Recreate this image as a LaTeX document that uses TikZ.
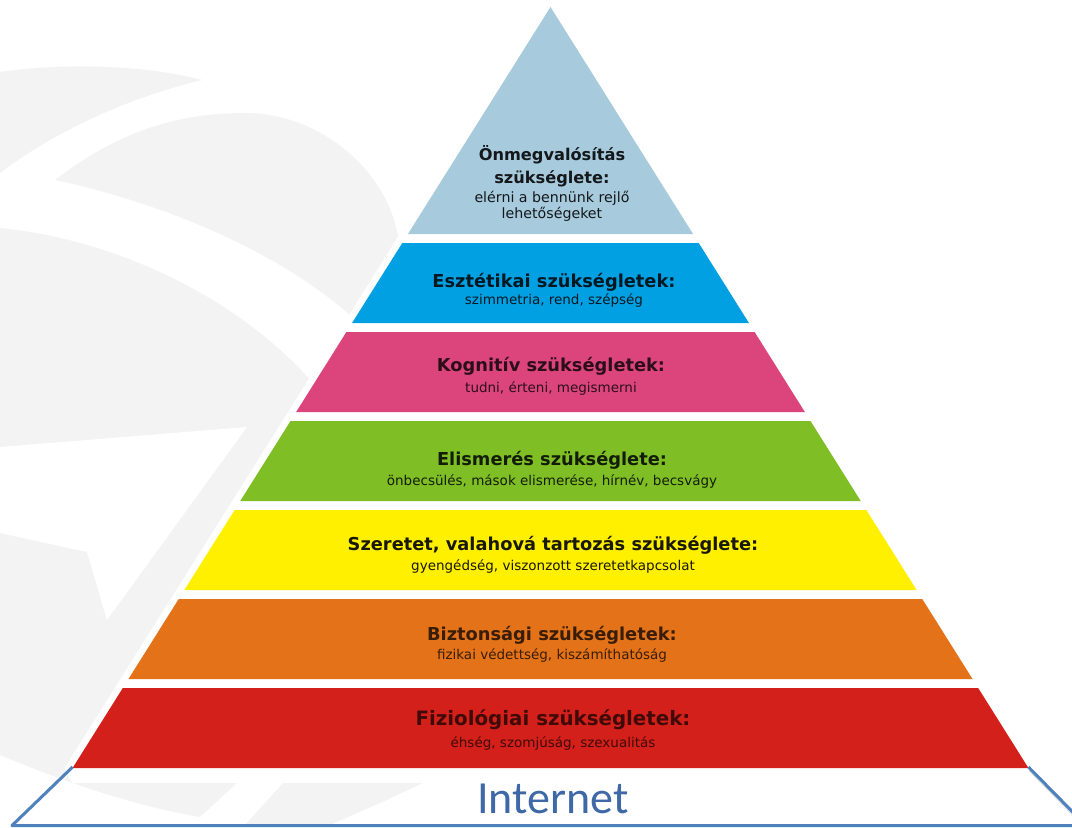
\documentclass[tikz,border=0pt]{standalone}
\usepackage{fontspec}
\setmainfont{DejaVu Sans}
\newfontfamily\carlito{Carlito}
\definecolor{bgGrey}{RGB}{243,243,243}
\definecolor{triBlue}{RGB}{167,202,220}
\definecolor{skyBlue}{RGB}{0,160,226}
\definecolor{rosePink}{RGB}{219,69,124}
\definecolor{leafGreen}{RGB}{128,190,38}
\definecolor{sunYellow}{RGB}{255,240,0}
\definecolor{deepOrange}{RGB}{228,114,24}
\definecolor{fireRed}{RGB}{212,32,26}
\definecolor{netBlue}{RGB}{62,104,166}
\definecolor{lineBlue}{RGB}{79,129,189}
\newcommand\pyrband[3]{%
  \pgfmathsetmacro\pbTL{550.5-0.628*(#1-7)}%
  \pgfmathsetmacro\pbTR{550.5+0.628*(#1-7)}%
  \pgfmathsetmacro\pbBL{550.5-0.628*(#2-7)}%
  \pgfmathsetmacro\pbBR{550.5+0.628*(#2-7)}%
  \fill[#3] (\pbTL,#1) -- (\pbTR,#1) -- (\pbBR,#2) -- (\pbBL,#2) -- cycle;%
}
\begin{document}
\begin{tikzpicture}[x=1pt,y=-1pt,
  head/.style={anchor=base,inner sep=0pt,font=\bfseries\fontsize{17.8}{20}\selectfont},
  headbig/.style={anchor=base,inner sep=0pt,font=\bfseries\fontsize{19.8}{22}\selectfont},
  headtri/.style={anchor=base,inner sep=0pt,font=\bfseries\fontsize{16.2}{19}\selectfont},
  sub/.style={anchor=base,inner sep=0pt,font=\fontsize{13.5}{16}\selectfont},
  subtri/.style={anchor=base,inner sep=0pt,font=\fontsize{14.2}{16}\selectfont},
  netline/.style={draw=lineBlue,line width=3pt,line join=round}]
\useasboundingbox (0,0) rectangle (1072,828);
\clip (0,0) rectangle (1072,828);
\fill[white] (0,0) rectangle (1072,828);
% watermark
\fill[bgGrey] (0,72) .. controls (70,62) and (150,66) .. (202,80)
  .. controls (120,100) and (50,135) .. (0,173) -- cycle;
\fill[bgGrey] (55,180) .. controls (120,130) and (180,113) .. (245,113)
  .. controls (320,113) and (385,170) .. (397,232) -- (420,300) -- (350,315)
  .. controls (270,245) and (150,200) .. (55,180) -- cycle;
\fill[bgGrey] (0,228) .. controls (120,240) and (240,300) .. (312,382)
  -- (345,400) -- (345,600) -- (237,783) -- (200,817)
  .. controls (130,805) and (60,780) .. (0,755) -- cycle;
\fill[white] (0,447) -- (247,427) -- (107,620) -- (87,552) -- (0,533) -- cycle;
\fill[bgGrey] (283,783) -- (423,783) -- (380,803) -- (330,825) -- (245,825) -- cycle;
% halo
\fill[white] (550.5,-6) -- (64.6,768) -- (72,783) -- (1036,783) -- (1036.4,768) -- cycle;
% bands
\pyrband{7}{234}{triBlue}
\pyrband{243}{323}{skyBlue}
\pyrband{332}{412}{rosePink}
\pyrband{421}{501}{leafGreen}
\pyrband{510}{590}{sunYellow}
\pyrband{599}{679}{deepOrange}
\pyrband{688}{768}{fireRed}
% texts
\node[headtri,text=triBlue!12!black] (t1) at (552,160) {Önmegvalósítás};
\node[headtri,text=triBlue!12!black] (t2) at (552,183) {szükséglete:};
\node[subtri,text=triBlue!12!black] (t3) at (552,202) {elérni a bennünk rejlő};
\node[subtri,text=triBlue!12!black] (t4) at (552,218) {lehetőségeket};
\node[head,text=skyBlue!15!black] (b1) at (554,287) {Esztétikai szükségletek:};
\node[sub,text=skyBlue!15!black] (b2) at (554,304) {szimmetria, rend, szépség};
\node[head,text=rosePink!20!black] (p1) at (551,371) {Kognitív szükségletek:};
\node[sub,text=rosePink!20!black] (p2) at (551,392) {tudni, érteni, megismerni};
\node[head,text=leafGreen!15!black] (g1) at (552,465) {Elismerés szükséglete:};
\node[sub,text=leafGreen!15!black] (g2) at (552,485) {önbecsülés, mások elismerése, hírnév, becsvágy};
\node[head,text=sunYellow!10!black] (y1) at (553,550) {Szeretet, valahová tartozás szükséglete:};
\node[sub,text=sunYellow!10!black] (y2) at (553,570) {gyengédség, viszonzott szeretetkapcsolat};
\node[head,text=deepOrange!25!black] (o1) at (552,640) {Biztonsági szükségletek:};
\node[sub,text=deepOrange!25!black] (o2) at (552,659) {fizikai védettség, kiszámíthatóság};
\node[headbig,text=fireRed!30!black] (r1) at (553,725) {Fiziológiai szükségletek:};
\node[sub,text=fireRed!30!black] (r2) at (553,747) {éhség, szomjúság, szexualitás};
% base frame
\coordinate (bl) at (72.6,767);
\coordinate (br) at (1028.4,767);
\coordinate (bll) at (12,825.5);
\coordinate (brr) at (1086,825.5);
\draw[black,opacity=.12,line width=4pt] ([shift={(2,3)}]br) -- ([shift={(2,3)}]brr);
\draw[netline] (bl) -- (bll) -- (brr) -- (br);
\node[anchor=base,inner sep=0pt,font=\carlito\fontsize{46}{50}\selectfont,text=netBlue] (net) at (553,813) {Internet};
\end{tikzpicture}
\end{document}
